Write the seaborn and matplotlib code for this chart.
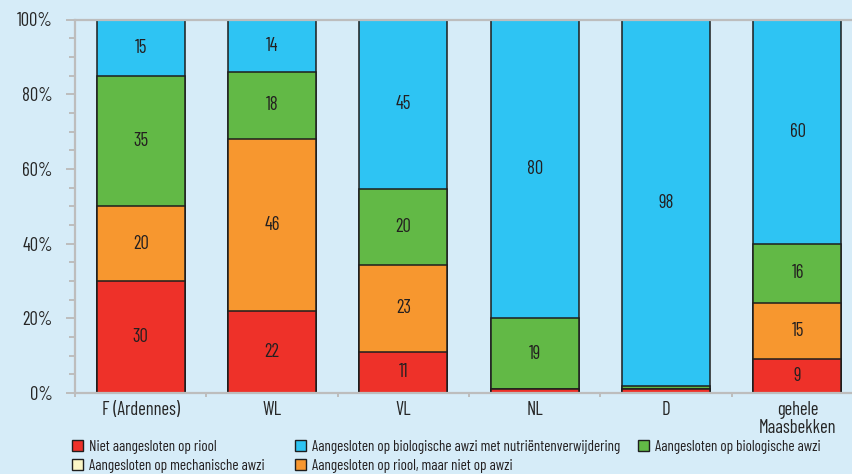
import matplotlib
matplotlib.use("Agg")
import matplotlib.pyplot as plt
from matplotlib.patches import Patch
from matplotlib.ticker import MultipleLocator, FixedLocator
import seaborn as sns
import pandas as pd
import numpy as np

# ---- data ----
regions = ["F (Ardennes)", "WL", "VL", "NL", "D", "gehele\nMaasbekken"]
niet_riool = [30, 22, 11, 1, 1, 9]          # red
riool_geen_awzi = [20, 46, 23, 0, 0, 15]    # orange
mechanisch = [0, 0, 0, 0, 0, 0]             # pale yellow
biologisch = [35, 18, 20, 19, 1, 16]        # green
nutrient = [15, 14, 45, 80, 98, 60]         # blue

series_names = [
    "Niet aangesloten op riool",
    "Aangesloten op riool, maar niet op awzi",
    "Aangesloten op mechanische awzi",
    "Aangesloten op biologische awzi",
    "Aangesloten op biologische awzi met nutriëntenverwijdering",
]
series_vals = [niet_riool, riool_geen_awzi, mechanisch, biologisch, nutrient]
colors = ["#ee3129", "#f7972f", "#fbf6c6", "#62b946", "#2ec4f3"]

BG = "#d6ecf8"
GRAY = "#bdbdbd"
EDGE = "#1e1e1e"
FONT = ["Barlow Condensed", "Barlow Semi Condensed", "DejaVu Sans"]
LABEL_SIZE = 13.4
LEGEND_SIZE = 10.9

sns.set_theme(style="white")
plt.rcParams["font.family"] = FONT
plt.rcParams["text.color"] = "#231f20"

vals = np.array(series_vals, dtype=float)
shares = vals / vals.sum(axis=0) * 100
cum = np.cumsum(shares, axis=0)

fig = plt.figure(figsize=(8.52, 4.74), dpi=100, facecolor=BG)
ax = fig.add_axes([75 / 852, 1 - 393 / 474, 1 - 75 / 852, (393 - 19.5) / 474])
ax.set_facecolor(BG)

# draw layers from top (largest cumulative) to bottom
for i in reversed(range(len(series_names))):
    if vals[i].sum() == 0:
        continue
    df = pd.DataFrame({"region": regions, "value": cum[i]})
    sns.barplot(data=df, x="region", y="value", color=colors[i], saturation=1,
                width=0.67, edgecolor=EDGE, linewidth=1.1, ax=ax, order=regions)

# segment labels
for j in range(len(regions)):
    bottom = 0.0
    for i in range(len(series_names)):
        h = shares[i, j]
        if vals[i, j] >= 5:
            ax.text(j, bottom + h / 2, f"{int(vals[i, j])}", ha="center", va="center",
                    fontsize=LABEL_SIZE, color="#231f20")
        bottom += h

ax.set_ylim(0, 100)
ax.set_xlim(-0.5, 5.415)
ax.set_xlabel("")
ax.set_ylabel("")
ax.set_yticks(range(0, 101, 20))
ax.set_yticklabels([f"{v}%" for v in range(0, 101, 20)], fontsize=LABEL_SIZE)
ax.yaxis.set_minor_locator(MultipleLocator(5))
ax.set_xticks(range(len(regions)))
ax.set_xticklabels(regions, fontsize=LABEL_SIZE, linespacing=1.0)
ax.xaxis.set_minor_locator(FixedLocator([k + 0.5 for k in range(-1, 5)]))
ax.tick_params(axis="y", which="major", length=6.5, width=1.4, color=GRAY, pad=9.5, direction="out", left=True)
ax.tick_params(axis="y", which="minor", length=4.3, width=1.4, color=GRAY, direction="out", left=True)
ax.tick_params(axis="x", which="major", length=0, pad=6, bottom=True)
ax.tick_params(axis="x", which="minor", length=3, width=1.4, color=GRAY, direction="out", bottom=True)
for s in ["left", "top", "bottom"]:
    ax.spines[s].set_visible(True)
    ax.spines[s].set_color(GRAY)
    ax.spines[s].set_linewidth(1.6)
ax.spines["right"].set_visible(False)
ax.grid(False)

# legend: three columns placed independently
columns = [([0, 2], 72), ([4, 1], 295), ([3], 638)]
for idx, x0 in columns:
    handles = [Patch(facecolor=colors[k], edgecolor=EDGE, linewidth=1.0) for k in idx]
    labels = [series_names[k] for k in idx]
    fig.legend(handles, labels, loc="upper left", bbox_to_anchor=(x0 / 852, 1 - 440 / 474),
               ncol=1, frameon=False, fontsize=LEGEND_SIZE, handlelength=0.72, handleheight=0.72,
               handletextpad=0.4, labelspacing=0.3, borderaxespad=0, borderpad=0)

fig.savefig("out.png", dpi=100, facecolor=BG)
